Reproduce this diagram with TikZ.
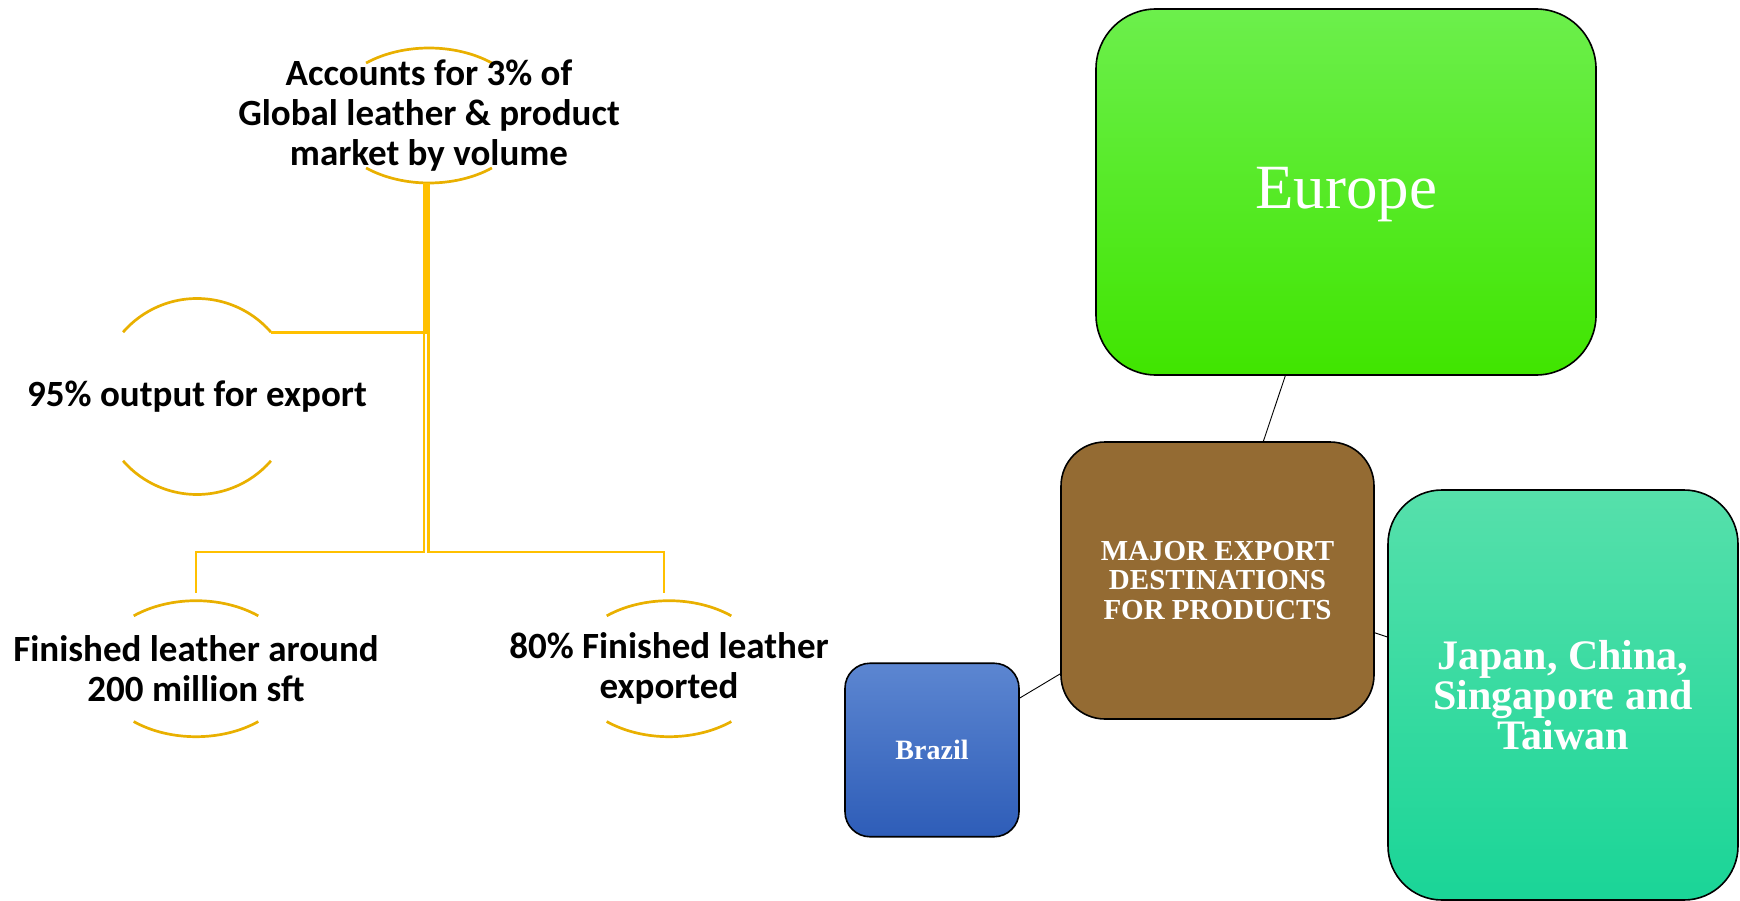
\documentclass[tikz,border=0pt]{standalone}
\usepackage{fontspec}
\setmainfont{Liberation Serif}
\newfontfamily\calib{Carlito}
\usetikzlibrary{shapes.geometric}
\definecolor{gold}{HTML}{FFC000}
\definecolor{arcgold}{HTML}{E9B000}
\definecolor{euTop}{HTML}{6CEF4C}
\definecolor{euBot}{HTML}{40E500}
\definecolor{majFill}{HTML}{946B33}
\definecolor{brTop}{HTML}{5C86D1}
\definecolor{brBot}{HTML}{2E5DB8}
\definecolor{jpTop}{HTML}{56E0AB}
\definecolor{jpBot}{HTML}{1AD597}
\begin{document}
\begin{tikzpicture}[x=1pt,y=1pt,
  lbl/.style={font=\calib\bfseries\fontsize{37}{40}\selectfont, align=center, text=black, inner sep=0pt},
  holder/.style={ellipse, draw=none, inner sep=0pt},
  conn/.style={draw=gold, line width=2.7pt},
  arcline/.style={draw=arcgold, line width=2.7pt},
  box/.style={draw=black, line width=1.6pt, rounded corners=#1, inner sep=0pt, text=white, align=center},
  link/.style={draw=black, line width=0.9pt}]
\useasboundingbox (0,0) rectangle (1740,-901);

% ---- left hierarchy: invisible holders for arcs
\node[holder, minimum width=200pt, minimum height=135pt] (topc) at (429,-115.5) {};
\node[holder, minimum width=196pt, minimum height=196pt] (n95c) at (197,-396.5) {};
\node[holder, minimum width=198pt, minimum height=136pt] (flc) at (196,-668.7) {};
\node[holder, minimum width=198pt, minimum height=136pt] (frc) at (669,-668.7) {};

% arcs
\draw[arcline] ([shift={(51:100pt and 67.5pt)}]topc.center) arc[start angle=51, end angle=129, x radius=100pt, y radius=67.5pt];
\draw[arcline] ([shift={(-51:100pt and 67.5pt)}]topc.center) arc[start angle=-51, end angle=-129, x radius=100pt, y radius=67.5pt];
\draw[arcline] ([shift={(41:98pt)}]n95c.center) arc[start angle=41, end angle=139, radius=98pt];
\draw[arcline] ([shift={(-41:98pt)}]n95c.center) arc[start angle=-41, end angle=-139, radius=98pt];
\draw[arcline] ([shift={(51:99pt and 68pt)}]flc.center) arc[start angle=51, end angle=129, x radius=99pt, y radius=68pt];
\draw[arcline] ([shift={(-51:99pt and 68pt)}]flc.center) arc[start angle=-51, end angle=-129, x radius=99pt, y radius=68pt];
\draw[arcline] ([shift={(51:99pt and 68pt)}]frc.center) arc[start angle=51, end angle=129, x radius=99pt, y radius=68pt];
\draw[arcline] ([shift={(-51:99pt and 68pt)}]frc.center) arc[start angle=-51, end angle=-129, x radius=99pt, y radius=68pt];

% connectors
\coordinate (bus) at (0,-552);
\coordinate (tl) at ([xshift=-5pt]topc.south);
\coordinate (tm) at ([xshift=-2.6pt]topc.south);
\coordinate (tr) at ([xshift=-0.3pt]topc.south);
\coordinate (n95end) at ([shift={(41:98pt)}]n95c.center);
\coordinate (fltop) at ([yshift=8pt]flc.north);
\coordinate (frtop) at ([xshift=-5pt,yshift=8pt]frc.north);
\draw[conn] (tm) |- (n95end);
\draw[conn] (tl) -- (tl |- bus) -| (fltop);
\draw[conn] (tr) -- (tr |- bus) -| (frtop);

% labels
\node[lbl] (toptxt) at (topc) {Accounts for 3\% of\\Global leather \& product\\market by volume};
\node[lbl] (n95txt) at (n95c) {95\% output for export};
\node[lbl] (fltxt) at (flc) {Finished leather around\\200 million sft};
\node[lbl] (frtxt) at (frc) {80\% Finished leather\\exported};

% ---- right cluster
\node[box=60pt, top color=euTop, bottom color=euBot, minimum width=500pt, minimum height=366pt,
      font=\fontsize{63}{70}\selectfont] (eu) at (1346,-192) {\raisebox{-17pt}[0pt][0pt]{Europe}};
\node[box=44pt, fill=majFill, minimum width=313pt, minimum height=277pt,
      font=\bfseries\fontsize{29}{29.5}\selectfont] (maj) at (1217.5,-580.5) {MAJOR EXPORT\\DESTINATIONS\\FOR PRODUCTS};
\node[box=25pt, top color=brTop, bottom color=brBot, minimum width=174pt, minimum height=173.5pt,
      font=\bfseries\fontsize{28}{30}\selectfont] (br) at (932,-750) {Brazil};
\node[box=54pt, top color=jpTop, bottom color=jpBot, minimum width=350pt, minimum height=410pt,
      font=\bfseries\fontsize{42}{40}\selectfont] (jp) at (1563,-695) {Japan, China,\\Singapore and\\Taiwan};

\draw[link] (eu) -- (maj);
\draw[link] (maj) -- (br);
\draw[link] (maj) -- (jp);
\end{tikzpicture}
\end{document}
